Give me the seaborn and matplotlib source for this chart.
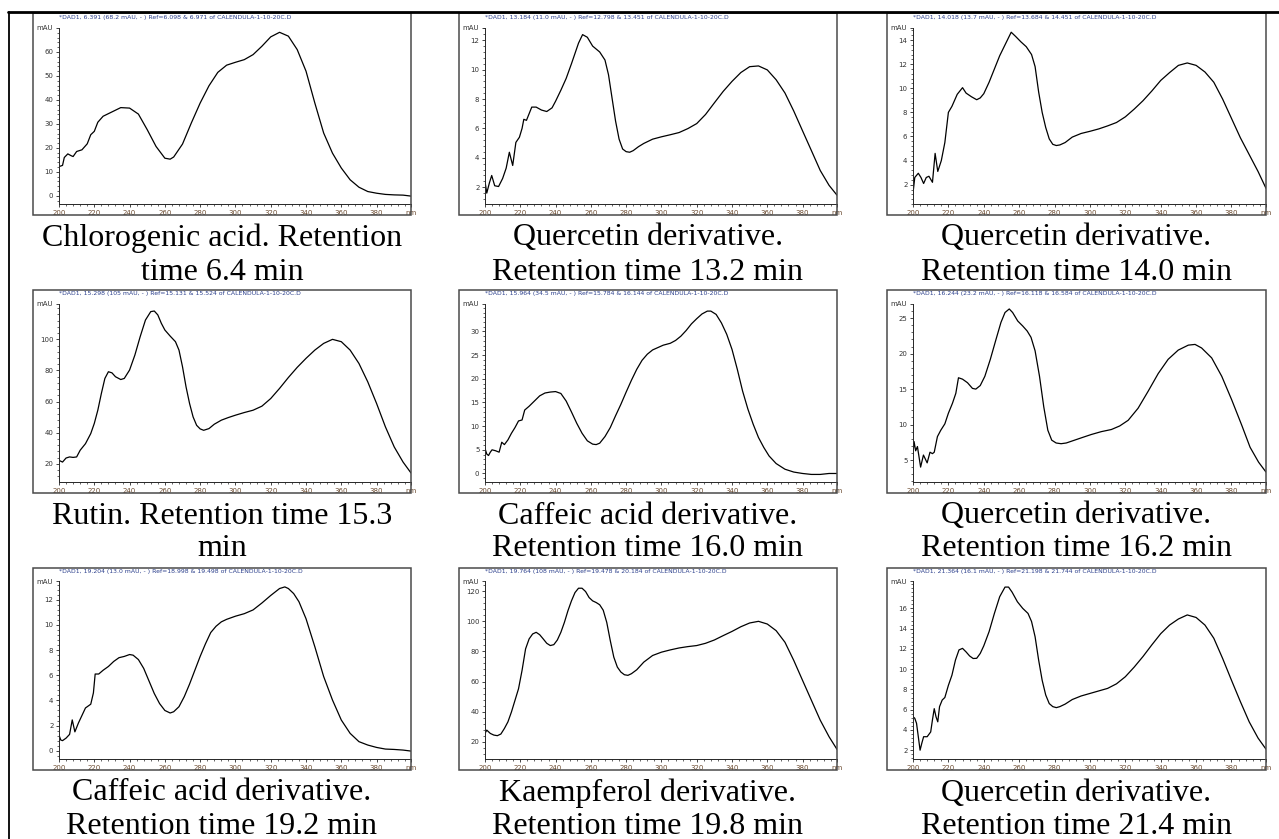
import matplotlib
matplotlib.use("Agg")
import matplotlib.pyplot as plt
import seaborn as sns
from matplotlib.lines import Line2D
from matplotlib.patches import Rectangle
from matplotlib.ticker import AutoMinorLocator

# ---- spectra (wavelength nm, absorbance mAU) ----
wl_p1 = [200, 202, 203, 205, 207, 208, 210, 213, 216, 218, 220, 222, 225, 230, 235, 240, 245, 250, 255,
         260, 263, 265, 270, 275, 280, 285, 290, 295, 300, 305, 310, 315, 320, 325, 330, 335, 340, 345,
         350, 355, 360, 365, 370, 375, 380, 385, 390, 395, 399.5]
ab_p1 = [12.2, 12.7, 16.0, 17.5, 16.7, 16.4, 18.5, 19.2, 21.7, 25.5, 26.9, 30.7, 33.2, 35.0, 36.8, 36.6,
         34.1, 27.6, 20.6, 15.7, 15.3, 16.2, 21.6, 30.4, 38.7, 45.9, 51.5, 54.5, 55.7, 56.8, 58.9, 62.4,
         66.3, 68.2, 66.6, 61.0, 52.0, 38.7, 26.2, 17.8, 11.6, 6.7, 3.6, 1.8, 1.1, 0.6, 0.4, 0.3, -0.1]

wl_p2 = [200, 201, 202.5, 203.8, 205.5, 207.7, 210, 212, 213.8, 215.7, 217.5, 219.5, 221, 222, 223.5, 225,
         226.5, 229, 232, 235, 238, 240, 243, 246, 249, 251, 253, 255.3, 258, 261, 265, 268, 270, 272, 274,
         276, 278, 280, 282, 284, 287, 290, 295, 300, 305, 310, 315, 320, 325, 330, 335, 340, 345, 350,
         355, 360, 365, 370, 375, 380, 385, 390, 395, 399.5]
ab_p2 = [2.4, 1.6, 2.3, 2.8, 2.1, 2.05, 2.6, 3.3, 4.38, 3.48, 5.05, 5.4, 6.0, 6.62, 6.55, 7.0, 7.45, 7.45,
         7.25, 7.15, 7.4, 7.85, 8.6, 9.4, 10.4, 11.1, 11.8, 12.38, 12.2, 11.6, 11.2, 10.65, 9.65, 8.07, 6.5,
         5.27, 4.6, 4.42, 4.38, 4.49, 4.76, 4.98, 5.27, 5.43, 5.57, 5.72, 5.99, 6.33, 6.95, 7.74, 8.52, 9.2,
         9.8, 10.2, 10.25, 9.98, 9.31, 8.41, 7.18, 5.83, 4.49, 3.14, 2.13, 1.46]

wl_p3 = [200, 201, 203, 204.5, 206, 207.5, 209, 211, 212.5, 214, 216, 218, 220, 222, 225, 228, 230, 233,
         236, 238, 240, 243, 246, 249, 252, 255.5, 258, 261, 264, 267, 269, 271, 273, 275, 277, 279, 281,
         283, 286, 290, 295, 300, 305, 310, 315, 320, 325, 330, 335, 340, 345, 350, 355, 360, 365, 370,
         375, 380, 385, 390, 395, 399.5]
ab_p3 = [1.3, 2.6, 2.95, 2.6, 2.1, 2.6, 2.7, 2.2, 4.6, 3.1, 4.0, 5.5, 8.0, 8.5, 9.5, 10.05, 9.6, 9.3, 9.05,
         9.2, 9.55, 10.5, 11.6, 12.7, 13.6, 14.65, 14.3, 13.85, 13.45, 12.8, 11.8, 9.7, 8.0, 6.75, 5.8,
         5.35, 5.25, 5.3, 5.5, 5.95, 6.25, 6.43, 6.63, 6.88, 7.16, 7.63, 8.27, 8.97, 9.78, 10.65, 11.3, 11.9,
         12.1, 11.9, 11.35, 10.5, 9.1, 7.5, 5.9, 4.5, 3.1, 1.7]

wl_p4 = [200, 202, 204, 206, 208, 210, 212, 215, 218, 220, 222, 224, 226, 228, 230, 232, 235, 237, 240, 243,
         246, 249, 252, 254, 256, 258, 260, 263, 266, 268, 270, 272, 274, 276, 278, 280, 282, 285, 288,
         292, 296, 300, 305, 310, 315, 320, 325, 330, 335, 340, 345, 350, 355, 360, 365, 370, 375, 380,
         385, 390, 395, 399.5]
ab_p4 = [22.3, 21.2, 23.8, 24.5, 24.2, 24.5, 28.8, 33.0, 39.5, 46.0, 54.5, 65.2, 74.9, 79.2, 78.5, 76.0, 74.2,
         74.9, 80.3, 89.9, 101.7, 112.4, 117.8, 118.2, 115.7, 110.3, 106.0, 102.1, 98.5, 93.1, 82.4, 69.5,
         58.8, 50.2, 44.8, 42.5, 41.6, 42.7, 45.5, 48.1, 49.8, 51.3, 53.0, 54.5, 57.1, 62.0, 68.5, 75.5,
         82.0, 87.8, 93.1, 97.4, 100.0, 98.5, 93.1, 84.5, 72.7, 58.8, 43.8, 30.9, 21.2, 14.2]

wl_p5 = [200, 201, 202, 203, 204, 206, 208, 209.5, 211, 213, 215, 217, 219, 221, 222.5, 225, 228, 231, 234,
         237, 240, 243, 246, 249, 252, 255, 258, 261, 263, 265, 268, 271, 274, 277, 280, 283, 286, 289, 292,
         295, 298, 301, 305, 308, 311, 314, 317, 320, 323, 326, 328, 331, 334, 337, 340, 343, 346, 349,
         352, 355, 358, 361, 365, 370, 375, 380, 385, 390, 395, 399.5]
ab_p5 = [5.3, 4.1, 3.8, 4.5, 5.0, 4.8, 4.5, 6.6, 6.1, 7.1, 8.5, 9.7, 11.1, 11.3, 13.4, 14.2, 15.3, 16.4, 17.0,
         17.2, 17.3, 16.9, 15.3, 13.0, 10.6, 8.5, 6.9, 6.2, 6.1, 6.4, 7.8, 9.7, 12.2, 14.6, 17.2, 19.7,
         22.0, 23.9, 25.2, 26.1, 26.6, 27.1, 27.5, 28.1, 29.0, 30.2, 31.6, 32.7, 33.7, 34.3, 34.3, 33.6,
         31.8, 29.4, 26.2, 22.0, 17.4, 13.6, 10.4, 7.6, 5.5, 3.7, 2.1, 0.9, 0.3, 0.0, -0.2, -0.2, 0.0, 0.0]

wl_p6 = [200, 200.6, 201.5, 202.5, 204.3, 205.9, 208, 209.6, 211, 212, 213.8, 215.7, 218, 220, 222.3, 224.2,
         225.7, 228, 230.8, 233.6, 235.5, 238, 240.6, 243.7, 246.9, 249.7, 252, 254.4, 256.3, 259.2, 262,
         264.5, 266.7, 269, 271.5, 273.9, 276.2, 278.4, 280.9, 283.7, 286.6, 291.3, 296, 300.8, 306.4,
         312.1, 316.8, 321.6, 327.2, 332.9, 338.6, 344.2, 349.9, 355.6, 359.4, 363.1, 368.8, 374.5, 380.1,
         385.8, 390.5, 395.3, 399.5]
ab_p6 = [5.9, 7.6, 6.3, 6.9, 4.0, 5.7, 4.6, 6.1, 5.9, 6.1, 8.3, 9.2, 10.1, 11.6, 13.0, 14.4, 16.6, 16.4, 15.9,
         15.1, 15.0, 15.5, 16.8, 19.2, 22.0, 24.4, 25.8, 26.3, 25.8, 24.6, 23.9, 23.2, 22.3, 20.4, 16.8,
         12.5, 9.2, 7.8, 7.4, 7.3, 7.4, 7.8, 8.2, 8.6, 9.0, 9.3, 9.8, 10.6, 12.3, 14.7, 17.2, 19.2, 20.5,
         21.2, 21.3, 20.8, 19.4, 16.8, 13.5, 9.9, 6.8, 4.7, 3.3]

wl_p7 = [200, 201, 202, 204, 206, 207.5, 209, 211, 213, 215, 217, 218, 219.5, 220.5, 222.5, 225, 228, 231,
         234, 237, 240, 242, 245, 248, 251, 254, 257, 260, 263, 265, 268, 271, 274, 277, 280, 283, 286, 289,
         292, 295, 300, 305, 310, 315, 320, 325, 328, 330, 333, 336, 340, 345, 350, 355, 360, 365, 370,
         375, 380, 385, 390, 395, 399.5]
ab_p7 = [1.24, 0.85, 0.8, 1.0, 1.3, 2.45, 1.5, 2.2, 2.8, 3.4, 3.6, 3.7, 4.6, 6.1, 6.1, 6.4, 6.7, 7.1, 7.4, 7.5,
         7.65, 7.6, 7.25, 6.55, 5.55, 4.55, 3.75, 3.2, 3.0, 3.1, 3.5, 4.3, 5.3, 6.4, 7.5, 8.5, 9.4, 9.9,
         10.25, 10.45, 10.7, 10.9, 11.2, 11.75, 12.35, 12.9, 13.03, 12.9, 12.5, 11.85, 10.5, 8.27, 5.9,
         4.03, 2.44, 1.38, 0.72, 0.45, 0.26, 0.13, 0.1, 0.05, -0.03]

wl_p8 = [200, 201, 203, 205, 207, 209, 211, 213, 215, 217, 219, 221, 223, 225, 227, 229, 231, 233, 235, 237,
         239, 241, 243, 245, 247, 249, 251, 253, 255, 257, 259, 261, 263, 265, 267, 269, 271, 273, 275,
         277, 279, 281, 283, 286, 290, 295, 300, 305, 310, 315, 320, 325, 330, 335, 340, 345, 350, 355,
         360, 365, 370, 375, 380, 385, 390, 395, 399.5]
ab_p8 = [25.5, 27.7, 25.5, 24.4, 24.0, 25.1, 28.8, 33.2, 39.8, 47.5, 55.2, 67.4, 81.7, 88.3, 91.6, 92.7, 91.1,
         88.3, 85.4, 83.9, 84.5, 87.6, 92.7, 99.3, 107.0, 113.6, 119.1, 122.0, 122.0, 119.8, 115.8, 113.6,
         112.5, 111.0, 107.4, 99.3, 87.2, 76.2, 69.6, 66.3, 64.5, 64.1, 65.2, 67.8, 72.9, 77.3, 79.5, 81.0,
         82.3, 83.2, 83.9, 85.4, 87.6, 90.5, 93.3, 96.4, 98.9, 100.0, 98.2, 93.8, 86.1, 74.0, 60.7, 47.5,
         34.3, 23.3, 14.9]

wl_p9 = [200, 201, 202, 203, 204, 205, 206, 208, 210, 211, 212, 213, 214, 215, 216.5, 218, 220, 222, 224, 226,
         228, 230, 232, 234, 236, 238, 240, 243, 246, 249, 252, 254, 256, 259, 262, 265, 267, 269, 271, 273,
         275, 277, 279, 281, 283, 286, 290, 295, 300, 305, 310, 315, 320, 325, 330, 335, 340, 345, 350,
         355, 360, 365, 370, 375, 380, 385, 390, 395, 399.5]
ab_p9 = [5.3, 5.15, 4.65, 3.33, 2.0, 2.7, 3.33, 3.33, 3.8, 5.0, 6.1, 5.3, 4.8, 6.3, 6.95, 7.2, 8.4, 9.4, 10.9,
         11.9, 12.05, 11.7, 11.3, 11.05, 11.07, 11.55, 12.3, 13.7, 15.5, 17.15, 18.1, 18.1, 17.6, 16.65,
         16.0, 15.5, 14.7, 13.2, 10.9, 8.9, 7.45, 6.6, 6.3, 6.2, 6.3, 6.55, 7.0, 7.35, 7.6, 7.85, 8.1, 8.55,
         9.25, 10.2, 11.25, 12.4, 13.5, 14.35, 14.95, 15.35, 15.1, 14.35, 13.05, 11.05, 8.9, 6.8, 4.8, 3.2,
         2.1]

wavelengths = [wl_p1, wl_p2, wl_p3, wl_p4, wl_p5, wl_p6, wl_p7, wl_p8, wl_p9]
absorbances = [ab_p1, ab_p2, ab_p3, ab_p4, ab_p5, ab_p6, ab_p7, ab_p8, ab_p9]

headers = [
    "*DAD1, 6.391 (68.2 mAU, - ) Ref=6.098 & 6.971 of CALENDULA-1-10-20C.D",
    "*DAD1, 13.184 (11.0 mAU, - ) Ref=12.798 & 13.451 of CALENDULA-1-10-20C.D",
    "*DAD1, 14.018 (13.7 mAU, - ) Ref=13.684 & 14.451 of CALENDULA-1-10-20C.D",
    "*DAD1, 15.298 (105 mAU, - ) Ref=15.131 & 15.524 of CALENDULA-1-10-20C.D",
    "*DAD1, 15.964 (34.5 mAU, - ) Ref=15.784 & 16.144 of CALENDULA-1-10-20C.D",
    "*DAD1, 16.244 (23.2 mAU, - ) Ref=16.118 & 16.584 of CALENDULA-1-10-20C.D",
    "*DAD1, 19.204 (13.0 mAU, - ) Ref=18.998 & 19.498 of CALENDULA-1-10-20C.D",
    "*DAD1, 19.764 (108 mAU, - ) Ref=19.478 & 20.184 of CALENDULA-1-10-20C.D",
    "*DAD1, 21.364 (16.1 mAU, - ) Ref=21.198 & 21.744 of CALENDULA-1-10-20C.D",
]
captions = [
    ("Chlorogenic acid. Retention", "time 6.4 min"),
    ("Quercetin derivative.", "Retention time 13.2 min"),
    ("Quercetin derivative.", "Retention time 14.0 min"),
    ("Rutin. Retention time 15.3", "min"),
    ("Caffeic acid derivative.", "Retention time 16.0 min"),
    ("Quercetin derivative.", "Retention time 16.2 min"),
    ("Caffeic acid derivative.", "Retention time 19.2 min"),
    ("Kaempferol derivative.", "Retention time 19.8 min"),
    ("Quercetin derivative.", "Retention time 21.4 min"),
]
yticks = [
    [0, 10, 20, 30, 40, 50, 60],
    [2, 4, 6, 8, 10, 12],
    [2, 4, 6, 8, 10, 12, 14],
    [20, 40, 60, 80, 100],
    [0, 5, 10, 15, 20, 25, 30],
    [5, 10, 15, 20, 25],
    [0, 2, 4, 6, 8, 10, 12],
    [20, 40, 60, 80, 100, 120],
    [2, 4, 6, 8, 10, 12, 14, 16],
]
ylims = [(-3.4, 70), (0.86, 12.83), (0.4, 15.0), (8.4, 122.7), (-1.8, 35.8),
         (1.9, 27.0), (-0.66, 13.5), (8.5, 126.8), (1.13, 18.7)]
xticks = [200, 220, 240, 260, 280, 300, 320, 340, 360, 380]

W, H = 1279, 839
sns.set_style("ticks")
fig = plt.figure(figsize=(W / 100, H / 100), dpi=100)

# pixel layout: box (left, top, right, bottom), axes (left, top, bottom)
box_left = [33, 459, 887]
box_right = [411, 837, 1266]
ax_left = [59, 485, 913]
row_box_top = [13, 290, 568]
row_box_bot = [215, 493, 770]
row_ax_bot = [204, 482, 759]
row_ax_top = [28, 304, 581]
row_cap = [(238, 272), (516, 549), (793, 827)]


def fx(px):
    return px / W


def fy(py):
    return 1 - py / H


for i in range(9):
    r, c = divmod(i, 3)
    # panel frame
    fig.add_artist(Rectangle((fx(box_left[c]), fy(row_box_bot[r])),
                             fx(box_right[c] - box_left[c]), (row_box_bot[r] - row_box_top[r]) / H,
                             transform=fig.transFigure, fill=False, edgecolor="#4a4a4a", lw=1.1))
    ax = fig.add_axes([fx(ax_left[c]), fy(row_ax_bot[r]), fx(box_right[c] - ax_left[c]),
                       (row_ax_bot[r] - row_ax_top[r]) / H])
    sns.lineplot(x=wavelengths[i], y=absorbances[i], ax=ax, color="black", lw=0.9, sort=False)
    ax.set_xlim(200, 399.5)
    ax.set_ylim(*ylims[i])
    ax.set_xticks(xticks + [399.5])
    ax.set_xticklabels([str(t) for t in xticks] + ["nm"])
    ax.set_yticks(yticks[i] + [ylims[i][1]])
    ax.set_yticklabels([str(t) for t in yticks[i]] + ["mAU"])
    ax.xaxis.set_minor_locator(AutoMinorLocator(5))
    ax.yaxis.set_minor_locator(AutoMinorLocator(5))
    ax.tick_params(which="major", length=2.5, width=0.6, pad=1.5, labelsize=5.0)
    ax.tick_params(which="minor", length=1.3, width=0.5)
    ax.tick_params(axis="x", labelcolor="#6b4a2f")
    ax.tick_params(axis="y", labelcolor="#333333")
    for side in ["top", "right"]:
        ax.spines[side].set_visible(False)
    for side in ["left", "bottom"]:
        ax.spines[side].set_linewidth(0.7)
    ax.set_xlabel("")
    ax.set_ylabel("")
    ax.patch.set_alpha(0)
    fig.text(fx(ax_left[c]), fy(row_box_top[r] + 4), headers[i], fontsize=4.4,
             color="#2b3f8c", ha="left", va="center")
    cx = (box_left[c] + box_right[c]) / 2
    for line, ly in zip(captions[i], row_cap[r]):
        fig.text(fx(cx), fy(ly), line, fontsize=23, family="Liberation Serif",
                 ha="center", va="center", color="black")

# page borders
fig.add_artist(Line2D([fx(8), 1], [fy(12), fy(12)], transform=fig.transFigure, color="black", lw=2.0))
fig.add_artist(Line2D([fx(9), fx(9)], [fy(12), 0], transform=fig.transFigure, color="black", lw=1.3))

fig.savefig("out.png", dpi=100)
